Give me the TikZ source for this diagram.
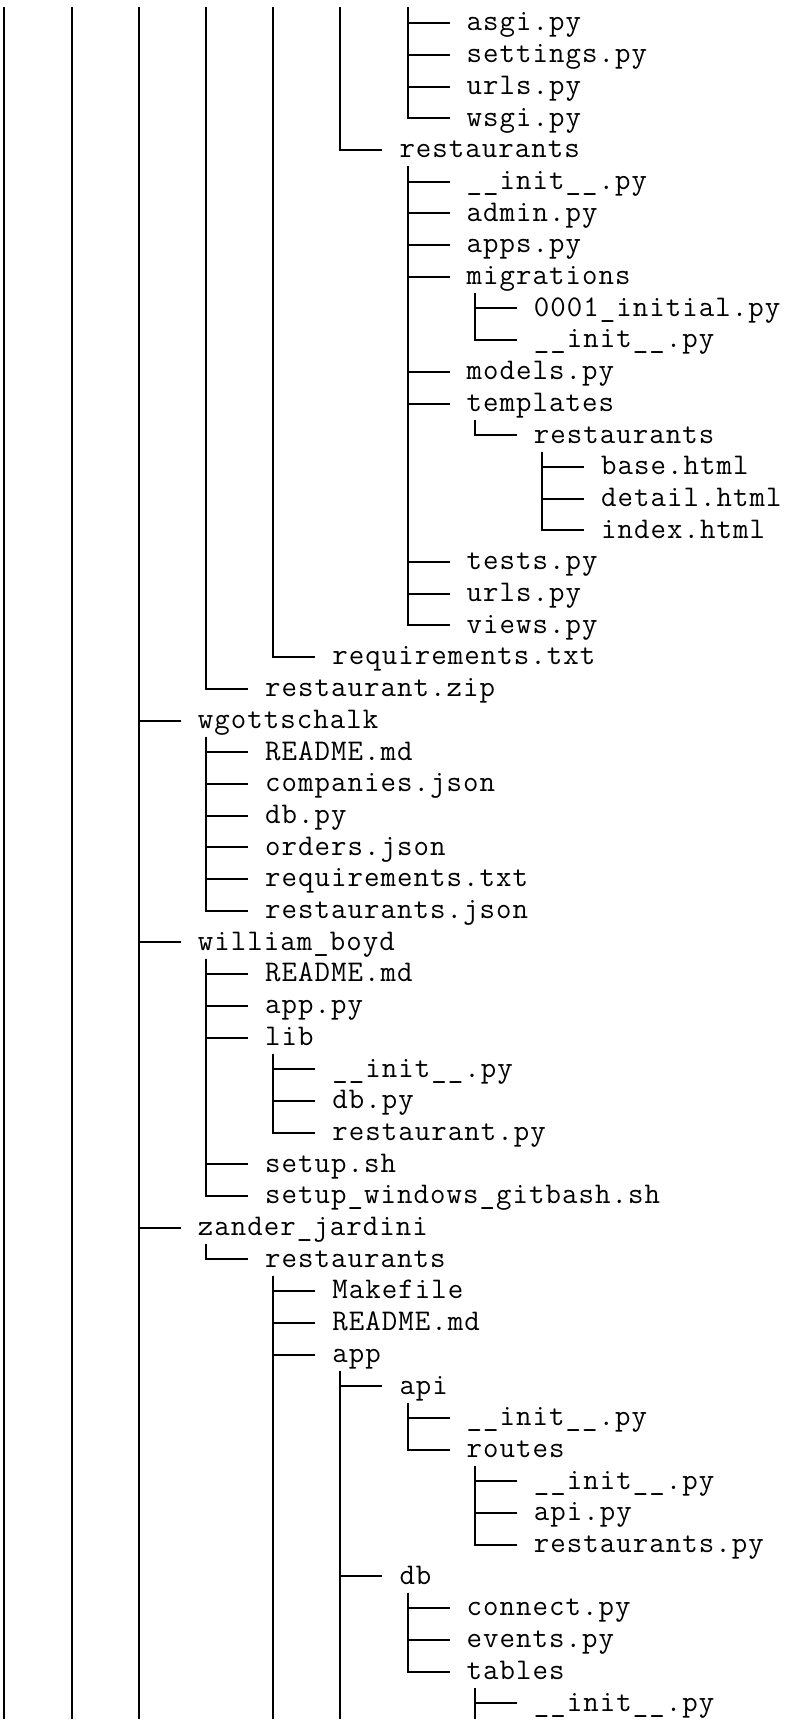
\documentclass[tikz,border=0pt]{standalone}
\usepackage{fontspec}
\usepackage{tikz}
\usetikzlibrary{calc}
\newfontfamily\treefont[LetterSpace=3.5]{Latin Modern Mono}
\tikzset{
  entry/.style={anchor=west, inner sep=0pt, text height=11.83pt, text depth=4.02pt, font=\treefont\fontsize{15pt}{15.85pt}\selectfont},
  branch/.style={line width=1pt, black},
  stem/.style={line width=1pt, black}
}

\begin{document}
\begin{tikzpicture}[x=8.4pt, y=15.85pt]
  \path[fill=white, use as bounding box] (2.05pt,3.65pt) rectangle (397.55pt,-859.35pt);
  % cropped parents: top and bottom ends of the columns
  \foreach \k in {0,...,7} {
    \coordinate (top\k) at (4*\k+0.5,0);
    \coordinate (bot\k) at (4*\k+0.5,-54);
  }

  % project settings (parent above the picture)
  \node[entry] (asgi) at (28,-0.5) {asgi.py};
  \node[entry] (settings) at (28,-1.5) {settings.py};
  \node[entry] (urlsa) at (28,-2.5) {urls.py};
  \node[entry] (wsgi) at (28,-3.5) {wsgi.py};
  % restaurants app
  \node[entry] (resta) at (24,-4.5) {restaurants};
  \node[entry] (inita) at (28,-5.5) {\_\_init\_\_.py};
  \node[entry] (admin) at (28,-6.5) {admin.py};
  \node[entry] (apps) at (28,-7.5) {apps.py};
  \node[entry] (migr) at (28,-8.5) {migrations};
  \node[entry] (migone) at (32,-9.5) {0001\_initial.py};
  \node[entry] (initb) at (32,-10.5) {\_\_init\_\_.py};
  \node[entry] (models) at (28,-11.5) {models.py};
  \node[entry] (templ) at (28,-12.5) {templates};
  \node[entry] (restb) at (32,-13.5) {restaurants};
  \node[entry] (base) at (36,-14.5) {base.html};
  \node[entry] (detail) at (36,-15.5) {detail.html};
  \node[entry] (index) at (36,-16.5) {index.html};
  \node[entry] (tests) at (28,-17.5) {tests.py};
  \node[entry] (urlsb) at (28,-18.5) {urls.py};
  \node[entry] (views) at (28,-19.5) {views.py};
  \node[entry] (reqa) at (20,-20.5) {requirements.txt};
  \node[entry] (zip) at (16,-21.5) {restaurant.zip};
  % wgottschalk
  \node[entry] (wgott) at (12,-22.5) {wgottschalk};
  \node[entry] (reada) at (16,-23.5) {README.md};
  \node[entry] (comp) at (16,-24.5) {companies.json};
  \node[entry] (dba) at (16,-25.5) {db.py};
  \node[entry] (orders) at (16,-26.5) {orders.json};
  \node[entry] (reqb) at (16,-27.5) {requirements.txt};
  \node[entry] (restjson) at (16,-28.5) {restaurants.json};
  % william_boyd
  \node[entry] (wboyd) at (12,-29.5) {william\_boyd};
  \node[entry] (readb) at (16,-30.5) {README.md};
  \node[entry] (apppy) at (16,-31.5) {app.py};
  \node[entry] (lib) at (16,-32.5) {lib};
  \node[entry] (initc) at (20,-33.5) {\_\_init\_\_.py};
  \node[entry] (dbb) at (20,-34.5) {db.py};
  \node[entry] (restpy) at (20,-35.5) {restaurant.py};
  \node[entry] (setup) at (16,-36.5) {setup.sh};
  \node[entry] (setupwin) at (16,-37.5) {setup\_windows\_gitbash.sh};
  % zander_jardini
  \node[entry] (zander) at (12,-38.5) {zander\_jardini};
  \node[entry] (restc) at (16,-39.5) {restaurants};
  \node[entry] (make) at (20,-40.5) {Makefile};
  \node[entry] (readc) at (20,-41.5) {README.md};
  \node[entry] (app) at (20,-42.5) {app};
  \node[entry] (api) at (24,-43.5) {api};
  \node[entry] (initd) at (28,-44.5) {\_\_init\_\_.py};
  \node[entry] (routes) at (28,-45.5) {routes};
  \node[entry] (inite) at (32,-46.5) {\_\_init\_\_.py};
  \node[entry] (apipy) at (32,-47.5) {api.py};
  \node[entry] (restroutes) at (32,-48.5) {restaurants.py};
  \node[entry] (db) at (24,-49.5) {db};
  \node[entry] (connect) at (28,-50.5) {connect.py};
  \node[entry] (events) at (28,-51.5) {events.py};
  \node[entry] (tables) at (28,-52.5) {tables};
  \node[entry] (initf) at (32,-53.5) {\_\_init\_\_.py};

  % long stems running off the picture
  \draw[stem] (top0) -- (bot0);
  \draw[stem] (top1) -- (bot1);
  \draw[stem] (top2) -- (bot2);
  \draw[stem] ([xshift=4.2pt]restc.south west) -- (bot4);
  \draw[stem] ([xshift=4.2pt]app.south west) -- (bot5);
  \draw[stem] ([xshift=4.2pt]tables.south west) -- (bot7);

  % branches from parents above the picture
  \foreach \c in {asgi,settings,urlsa,wsgi}
    \draw[branch] (top6) |- ([xshift=-8.4pt]\c.west);
  \draw[branch] (top5) |- ([xshift=-8.4pt]resta.west);
  \draw[branch] (top4) |- ([xshift=-8.4pt]reqa.west);
  \draw[branch] (top3) |- ([xshift=-8.4pt]zip.west);
  \foreach \c in {wgott,wboyd,zander}
    \draw[branch] (top2) |- ([xshift=-8.4pt]\c.west);

  % branches from parent to child
  \foreach \p/\c in {resta/inita, resta/admin, resta/apps, resta/migr, migr/migone, migr/initb,
      resta/models, resta/templ, templ/restb, restb/base, restb/detail, restb/index,
      resta/tests, resta/urlsb, resta/views,
      wgott/reada, wgott/comp, wgott/dba, wgott/orders, wgott/reqb, wgott/restjson,
      wboyd/readb, wboyd/apppy, wboyd/lib, lib/initc, lib/dbb, lib/restpy, wboyd/setup, wboyd/setupwin,
      zander/restc, restc/make, restc/readc, restc/app, app/api, api/initd, api/routes,
      routes/inite, routes/apipy, routes/restroutes, app/db, db/connect, db/events, db/tables,
      tables/initf}
    \draw[branch] ([xshift=4.2pt]\p.south west) |- ([xshift=-8.4pt]\c.west);
\end{tikzpicture}
\end{document}
